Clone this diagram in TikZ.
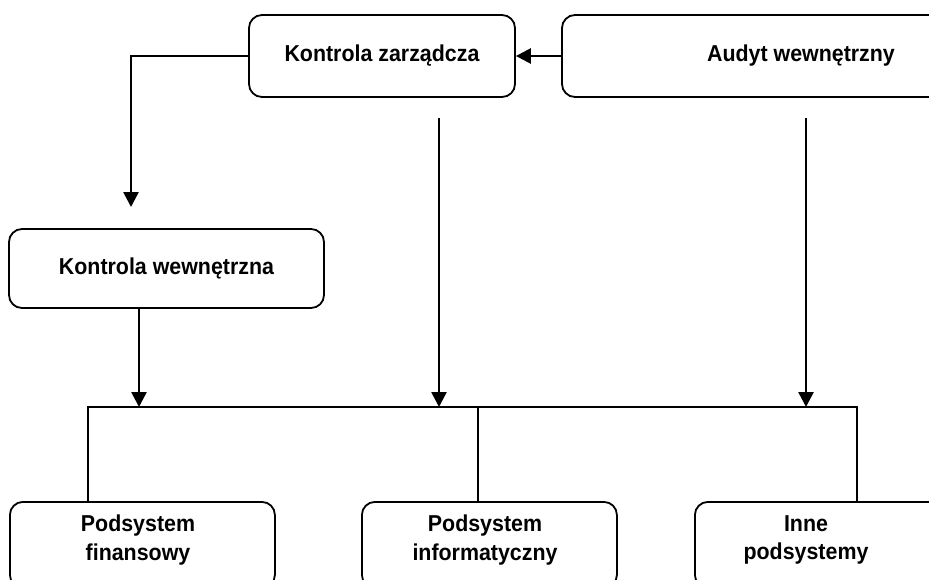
\documentclass[tikz,border=0pt]{standalone}
\usepackage{fontspec}
\newfontfamily\lab{Liberation Sans}[FakeStretch=0.93]
\usetikzlibrary{arrows.meta}
\begin{document}
\begin{tikzpicture}[x=1pt,y=-1pt,
  box/.style={draw, line width=1.8pt, rounded corners=13pt, inner sep=0pt},
  lbl/.style={font=\lab\bfseries\fontsize{23}{28.5}\selectfont, align=center, inner sep=0pt},
  conn/.style={line width=2.6pt, -{Triangle[length=15pt,width=15pt]}},
  bus/.style={line width=1.4pt}]
\useasboundingbox (0,0) rectangle (929,579);
% boxes
\node[box, lbl, minimum width=266pt, minimum height=82pt] (kz) at (382,56) {Kontrola zarządcza};
\node[box, lbl, minimum width=478pt, minimum height=82pt] (au) at (801,56) {Audyt wewnętrzny};
\node[box, lbl, minimum width=315pt, minimum height=79pt] (kw) at (166.5,268.5) {Kontrola wewnętrzna};
\node[box, minimum width=265pt, minimum height=86pt, anchor=north west] (b1) at (9,501) {};
\node[box, minimum width=255pt, minimum height=86pt, anchor=north west] (b2) at (361,501) {};
\node[box, minimum width=260pt, minimum height=86pt, anchor=north west] (b3) at (694,501) {};
\node[lbl] (t1) at (138,540) {Podsystem\\finansowy};
\node[lbl] (t2) at (485,540) {Podsystem\\informatyczny};
\node[lbl] (t3) at (806,540) {Inne\\podsystemy};
% coordinates
\coordinate (kwtip) at (131,207);
\coordinate (k1) at (139,407);
\coordinate (m0) at (439,118);
\coordinate (m1) at (439,407);
\coordinate (r0) at (806,118);
\coordinate (r1) at (806,407);
\coordinate (busL) at (88,407);
\coordinate (busM) at (478,407);
\coordinate (busR) at (857,407);
% connectors
\draw[conn] (au.west) -- (kz.east);
\draw[conn] (kz.west) -| (kwtip);
\draw[conn] (kw.south -| k1) -- (k1);
\draw[conn] (m0) -- (m1);
\draw[conn] (r0) -- (r1);
\draw[bus] (b1.north -| busL) -- (busL) -- (busR) -- (b3.north -| busR);
\draw[bus] (busM) -- (b2.north -| busM);
\end{tikzpicture}
\end{document}
